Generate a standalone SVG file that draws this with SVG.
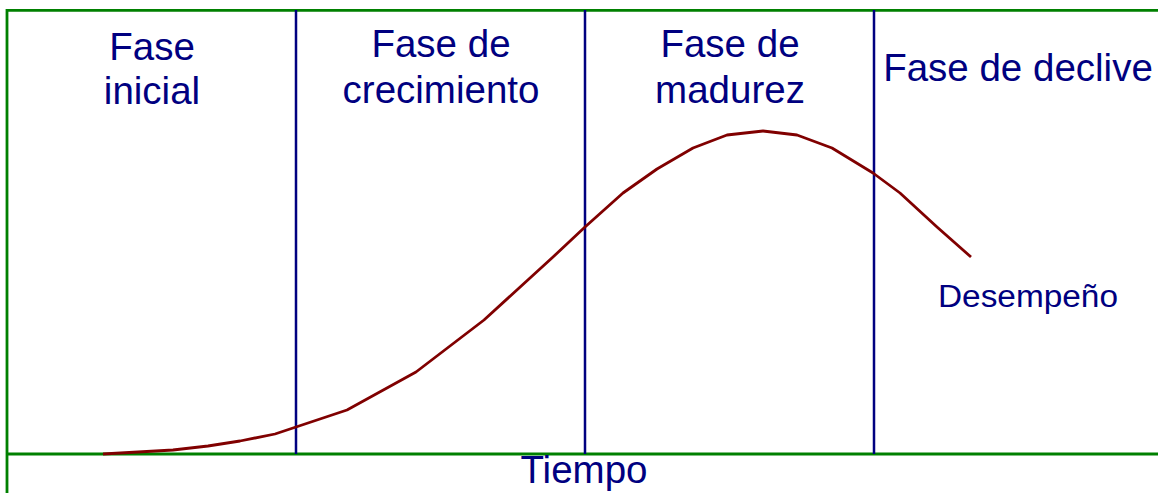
<svg xmlns="http://www.w3.org/2000/svg" width="1158" height="493" viewBox="0 0 1158 493">
<style>
.frame{stroke:#008000;stroke-width:2.8;fill:none}
.div{stroke:#000080;stroke-width:2.5;fill:none}
.curve{stroke:#800000;stroke-width:2.8;fill:none;stroke-linejoin:round}
.lbl{font-family:"Liberation Sans",Arial,sans-serif;font-size:38.5px;fill:#000080;text-anchor:middle}
</style>
<rect width="1158" height="493" fill="#ffffff"/>
<g id="frame">
<path class="frame" d="M7,493 V10.3 H1158"/>
<path class="frame" d="M7,454 H1158"/>
</g>
<g id="dividers">
<line class="div" x1="296" y1="10" x2="296" y2="454"/>
<line class="div" x1="585" y1="10" x2="585" y2="454"/>
<line class="div" x1="874" y1="10" x2="874" y2="454"/>
</g>
<g id="connectors">
<polyline class="curve" points="103,454 173,450 208,446 240,441 275,434 296,427 347,410 416,372 484,320 553,257 585,227 623,193 657,169 693,148 727,135 763,131 797,135 832,148 873,173 900,193 937,227 971,257"/>
</g>
<g id="fase-inicial">
<text class="lbl" x="152" y="60">Fase</text>
<text class="lbl" x="152" y="104">inicial</text>
</g>
<g id="fase-crecimiento">
<text class="lbl" x="441" y="57">Fase de</text>
<text class="lbl" x="441" y="103">crecimiento</text>
</g>
<g id="fase-madurez">
<text class="lbl" x="730" y="57">Fase de</text>
<text class="lbl" x="730" y="103">madurez</text>
</g>
<g id="fase-declive">
<text class="lbl" x="1018" y="81">Fase de declive</text>
</g>
<g id="desempeno">
<text class="lbl" x="1028" y="307" style="font-size:31px" textLength="180" lengthAdjust="spacingAndGlyphs">Desempeño</text>
</g>
<g id="tiempo">
<text class="lbl" x="584" y="483">Tiempo</text>
</g>
</svg>
